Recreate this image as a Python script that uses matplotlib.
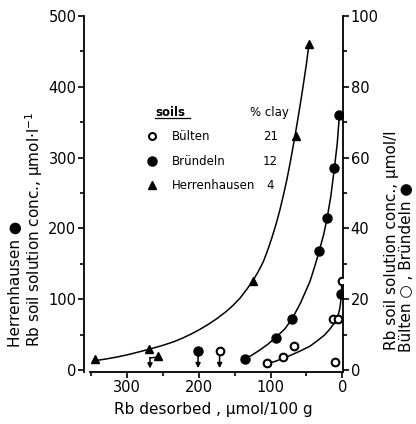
import numpy as np
import matplotlib
matplotlib.use("Agg")
import matplotlib.pyplot as plt

plt.rcParams['font.family'] = ['DejaVu Sans']

# Herrenhausen (left axis, umol/l) - triangles
herr_x = [344, 269, 124, 64, 47]
herr_y = [15, 30, 126, 330, 460]
herr_arrow = (257, 20)
# fitted line
herr_curve_x = [345, 330, 315, 300, 285, 268, 250, 235, 222, 210, 198, 186, 174, 162, 152,
                142, 133, 124, 117, 110, 104, 98, 92, 87, 82, 77, 72, 66, 61, 57, 54, 50, 46.5]
herr_curve_y = [13, 15.3, 18, 21.2, 25, 29.5, 34.7, 39.7, 45.2, 51, 57.5, 64.8, 73, 82.3, 91.4,
                102, 114, 127, 139, 153, 169, 187, 207, 226, 247, 270, 296, 330, 360, 385, 405, 432, 460]

# Bruendeln (right axis) - filled circles
brue_x = [135, 93, 70, 32, 21, 11, 4, 1.4]
brue_y = [3.1, 9.1, 14.4, 33.7, 43, 57, 72, 21.5]
brue_arrow = (201, 5.4)
brue_curve_x = [135, 125, 115, 104, 93, 80, 70, 58, 45, 38, 32, 26, 21, 16, 11, 7, 4]
brue_curve_y = [3.1, 4.3, 5.6, 7.2, 9.1, 11.6, 14.4, 19, 25, 29.5, 33.7, 38.2, 43, 49, 57, 64, 72]

# Buelten (right axis) - open circles
buel_x = [105, 82, 67, 13, 6, 10, 0.5]
buel_y = [2.0, 3.7, 6.8, 14.4, 14.4, 2.3, 25]
buel_arrow = (171, 5.4)
buel_curve_x = [105, 95, 82, 70, 58, 45, 35, 25, 17, 11, 7, 4, 2.5, 1.2, 0.6]
buel_curve_y = [2.0, 2.3, 3.3, 4.3, 5.4, 6.7, 8.2, 9.8, 11.6, 13.3, 14.7, 16.8, 18.7, 21.5, 25]

soils = ['Bülten', 'Bründeln', 'Herrenhausen']
clay = ['21', '12', '4']

fig = plt.figure(figsize=(4.16, 4.24), dpi=100)
ax = fig.add_axes([0.2019, 0.1226, 0.6226, 0.8397])
ax2 = ax.twinx()

ax.set_xlim(360, -1)
ax.set_ylim(-3, 500)
ax2.set_ylim(-0.6, 100)

# curves + points
ax.plot(herr_curve_x, herr_curve_y, color='k', lw=1.1)
ax.plot(herr_x, herr_y, '^', color='k', ms=6)
ax2.plot(brue_curve_x, brue_curve_y, color='k', lw=1.1)
ax2.plot(brue_x, brue_y, 'o', color='k', ms=6.5)
ax2.plot(buel_curve_x, buel_curve_y, color='k', lw=1.1)
ax2.plot(buel_x, buel_y, 'o', mfc='white', mec='k', mew=1.5, ms=5.5, zorder=3)

# points with downward arrows
arr = dict(arrowstyle='-|>', color='k', lw=1.1, mutation_scale=7, shrinkA=0, shrinkB=0)
ax.plot(*herr_arrow, '^', color='k', ms=6)
ax.plot([herr_arrow[0], herr_arrow[0] + 11], [herr_arrow[1] - 2, herr_arrow[1] - 3], color='k', lw=1.1)
ax.annotate('', xy=(herr_arrow[0] + 11, 2), xytext=(herr_arrow[0] + 11, herr_arrow[1] - 3), arrowprops=arr)
ax2.plot(*brue_arrow, 'o', color='k', ms=6.5)
ax2.annotate('', xy=(brue_arrow[0], 0.5), xytext=(brue_arrow[0], brue_arrow[1]), arrowprops=arr)
ax2.annotate('', xy=(buel_arrow[0], 0.5), xytext=(buel_arrow[0], buel_arrow[1]), arrowprops=arr)
ax2.plot(*buel_arrow, 'o', mfc='white', mec='k', mew=1.5, ms=5.5, zorder=3)

# legend drawn by hand
ax.text(240, 363, 'soils', ha='center', va='center', fontsize=8.5, fontweight='bold')
ax.plot([0.274, 0.41], [0.714, 0.714], color='k', lw=0.9, transform=ax.transAxes)
ax.text(128, 363, '% clay', ha='left', va='center', fontsize=8.5)
rows_y = [330, 295, 261]
ax.plot(265, rows_y[0], 'o', mfc='white', mec='k', mew=1.5, ms=5)
ax.plot(265, rows_y[1], 'o', color='k', ms=6.5)
ax.plot(265, rows_y[2], '^', color='k', ms=6)
for name, c, yy in zip(soils, clay, rows_y):
    ax.text(237, yy, name, ha='left', va='center', fontsize=8.5)
    ax.text(100, yy, c, ha='center', va='center', fontsize=8.5)

# axes styling
for a in (ax, ax2):
    a.spines['top'].set_visible(False)
    for s in a.spines.values():
        s.set_linewidth(1.3)
ax.spines['right'].set_visible(False)
ax2.spines['left'].set_visible(False)
ax2.spines['bottom'].set_visible(False)
ax.spines['bottom'].set_bounds(352, -1)
ax.spines['left'].set_bounds(-3, 500)
ax2.spines['right'].set_bounds(-0.6, 100)

ax.set_xticks([300, 200, 100, 0])
ax.set_xticks([350, 250, 150, 50], minor=True)
ax.set_yticks([0, 100, 200, 300, 400, 500])
ax.set_yticks([50, 150, 250, 350, 450], minor=True)
ax2.set_yticks([0, 20, 40, 60, 80, 100])
ax2.set_yticks([10, 30, 50, 70, 90], minor=True)
for a in (ax, ax2):
    a.tick_params(which='major', length=4, width=1.2, labelsize=10.5, pad=1.5)
    a.tick_params(which='minor', length=3, width=1.2)

ax.set_xlabel('Rb desorbed , µmol/100 g', fontsize=11, labelpad=5)

# y labels, two lines each, anchored at bottom
fig.text(0.082, 0.182, 'Rb soil solution conc., µmol·l$^{-1}$', rotation=90,
         rotation_mode='anchor', ha='left', va='center', fontsize=11)
fig.text(0.038, 0.182, 'Herrenhausen ●', rotation=90,
         rotation_mode='anchor', ha='left', va='center', fontsize=11)
fig.text(0.940, 0.175, 'Rb soil solution conc., µmol/l', rotation=90,
         rotation_mode='anchor', ha='left', va='center', fontsize=11)
fig.text(0.976, 0.170, 'Bülten ○ , Bründeln ●', rotation=90,
         rotation_mode='anchor', ha='left', va='center', fontsize=11)

fig.savefig('out.png', dpi=100)
